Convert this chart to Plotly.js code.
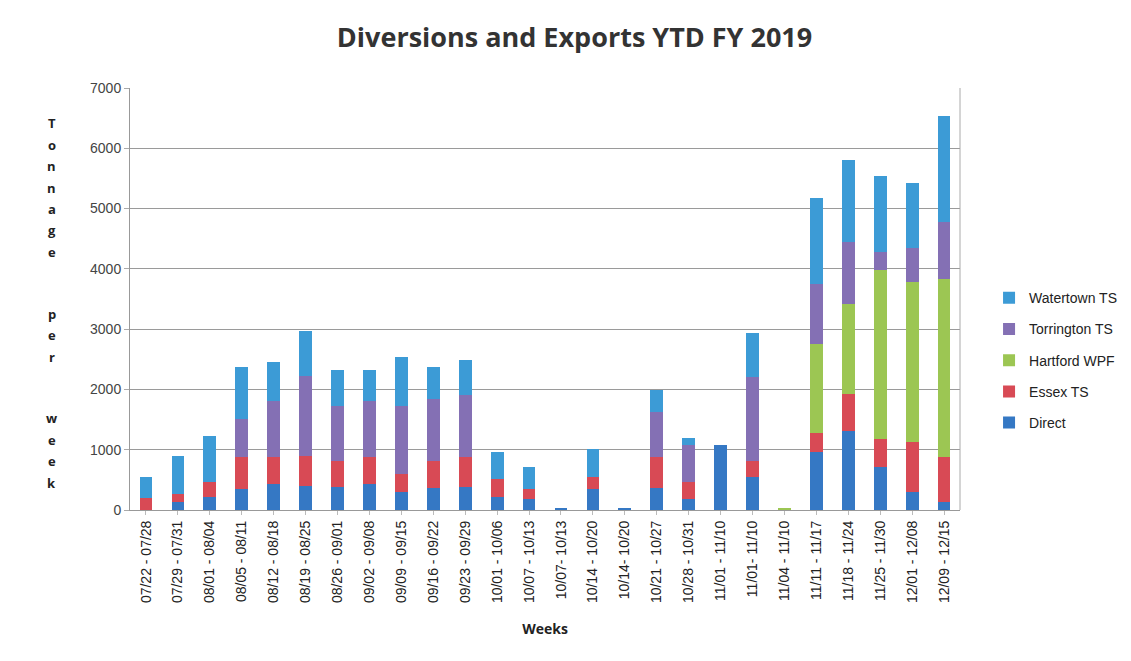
<!DOCTYPE html>
<html>
<head>
<meta charset="utf-8">
<script src="https://cdn.plot.ly/plotly-3.0.1.min.js"></script>
<style>html,body{margin:0;padding:0;background:#fff;}#chart{width:1131px;height:661px;}</style>
</head>
<body>
<div id="chart"></div>
<script>
const weeks = ["07/22 - 07/28","07/29 - 07/31","08/01 - 08/04","08/05 - 08/11","08/12 - 08/18","08/19 - 08/25","08/26 - 09/01","09/02 - 09/08","09/09 - 09/15","09/16 - 09/22","09/23 - 09/29","10/01 - 10/06","10/07 - 10/13","10/07- 10/13","10/14 - 10/20","10/14- 10/20","10/21 - 10/27","10/28 - 10/31","11/01 - 11/10","11/01- 11/10","11/04 - 11/10","11/11 - 11/17","11/18 - 11/24","11/25 - 11/30","12/01 - 12/08","12/09 - 12/15"];
const direct     = [0,130,220,350,430,405,375,430,295,365,375,210,185,40,350,40,365,185,1085,540,0,955,1315,710,295,130];
const essexTS    = [200,130,240,525,455,495,445,455,305,455,500,305,165,0,190,0,510,275,0,280,0,315,610,470,830,755];
const hartfordWPF= [0,0,0,0,0,0,0,0,0,0,0,0,0,0,0,0,0,0,0,0,40,1485,1485,2805,2655,2950];
const torringtonTS=[0,0,0,635,930,1330,910,930,1130,1025,1025,0,0,0,0,0,745,610,0,1380,0,995,1035,295,570,940];
const watertownTS= [350,640,770,860,635,735,600,515,815,525,580,445,370,0,470,0,370,125,0,735,0,1430,1365,1255,1075,1755];

const series = [
  {name:"Direct", y:direct, color:"#3578c4"},
  {name:"Essex TS", y:essexTS, color:"#d84a55"},
  {name:"Hartford WPF", y:hartfordWPF, color:"#9cc653"},
  {name:"Torrington TS", y:torringtonTS, color:"#8470b4"},
  {name:"Watertown TS", y:watertownTS, color:"#3c9bd6"}
];

const data = series.map((s,i)=>({
  type:"bar", name:s.name, x:weeks, y:s.y,
  marker:{color:s.color}, legendgroup:"g"+i, legendrank:1000-i
}));

const annotations = [];
const label = "Tonnage per week";
let yy = 123;
for (const ch of label) {
  if (ch === " ") { yy += 40; continue; }
  annotations.push({xref:"paper", yref:"paper", x:-0.094, y:(510-yy)/422, text:"<b>"+ch+"</b>",
    showarrow:false, xanchor:"center", yanchor:"middle", font:{family:"Open Sans, Arial", size:13, color:"#222"}});
  yy += 21.5;
}

const layout = {
  width:1131, height:661,
  margin:{l:130, r:171, t:88, b:151, autoexpand:false},
  paper_bgcolor:"#fff", plot_bgcolor:"#fff",
  barmode:"stack", bargap:0.6,
  title:{text:"<b>Diversions and Exports YTD FY 2019</b>", x:0.508, xanchor:"center", y:0.943, yanchor:"middle",
    font:{family:"Open Sans, Arial", size:27, color:"#333"}},
  xaxis:{type:"category", tickangle:-90, tickfont:{family:"Liberation Sans, Arial", size:14, color:"#222"},
    showline:true, linecolor:"#999", ticks:"outside", ticklen:4, tickcolor:"#bbb",
    title:{text:"<b>Weeks</b>", font:{family:"Open Sans, Arial", size:14, color:"#222"}, standoff:22}},
  yaxis:{range:[0,7000], dtick:1000, tickfont:{family:"Liberation Sans, Arial", size:14, color:"#444"},
    showgrid:true, gridcolor:"#9a9a9a", gridwidth:1, showline:true, linecolor:"#999", mirror:false,
    ticks:"outside", ticklen:5, tickcolor:"#aaa", zeroline:false},
  legend:{x:1.035, y:0.355, xanchor:"left", yanchor:"middle", traceorder:"grouped", tracegroupgap:10,
    font:{family:"Liberation Sans, Arial", size:14, color:"#222"}},
  annotations:annotations,
  shapes:[{type:"line", xref:"paper", yref:"paper", x0:1, x1:1, y0:0, y1:1, line:{color:"#aaa", width:1}}]
};

Plotly.newPlot("chart", data, layout, {displayModeBar:false});
</script>
</body>
</html>
